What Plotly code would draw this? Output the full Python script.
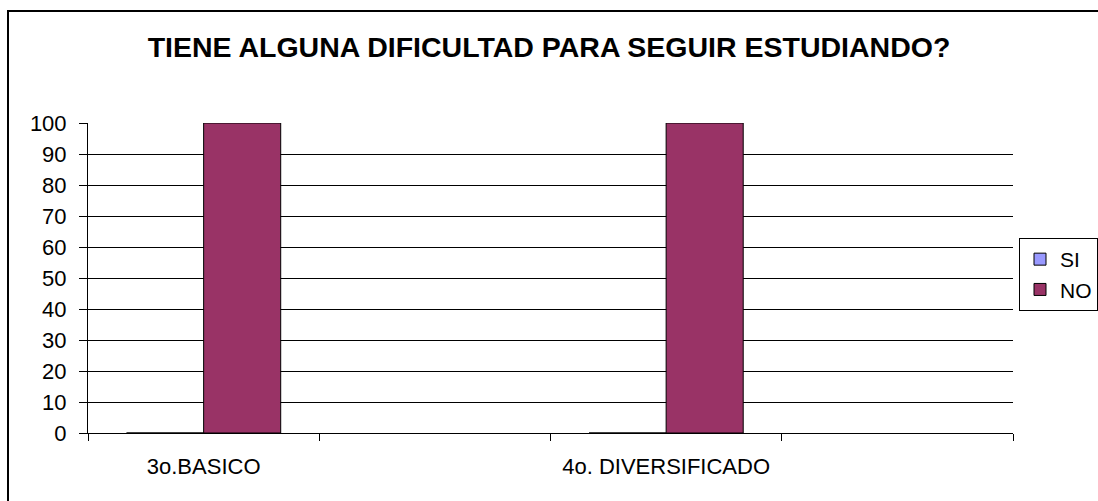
import plotly.graph_objects as go

# chart data
categories = ["3o.BASICO", " ", "4o. DIVERSIFICADO", "  "]
si_values = [0, None, 0, None]
no_values = [100, None, 100, None]
y_ticks = [0, 10, 20, 30, 40, 50, 60, 70, 80, 90, 100]

fig = go.Figure()
fig.add_trace(go.Bar(
    x=categories, y=si_values, name="SI",
    marker=dict(color="#9999FF", line=dict(color="black", width=1))
))
fig.add_trace(go.Bar(
    x=categories, y=no_values, name="NO",
    marker=dict(color="#993366", line=dict(color="black", width=1))
))

# outer chart border (runs off the right/bottom edge like the original)
fig.add_shape(type="rect", xref="paper", yref="paper",
              x0=(8 - 88) / 925, x1=1100 / 925, y0=-80 / 310, y1=(433 - 11) / 310,
              line=dict(color="black", width=2), layer="below")

fig.update_layout(
    width=1098, height=501,
    margin=dict(l=88, r=85, t=123, b=68, autoexpand=False),
    paper_bgcolor="white", plot_bgcolor="white",
    font=dict(family="Liberation Sans, Arial, sans-serif", size=22, color="black"),
    title=dict(text="<b>TIENE ALGUNA DIFICULTAD PARA SEGUIR ESTUDIANDO?</b>",
               x=0.5, xanchor="center", y=1 - 47 / 501, yanchor="middle",
               font=dict(size=28.5)),
    barmode="group", bargap=1 / 3, bargroupgap=0,
    showlegend=True,
    legend=dict(x=(1019 - 88) / 925, xanchor="left", y=(433 - 238) / 310, yanchor="top",
                bordercolor="black", borderwidth=1, bgcolor="white",
                font=dict(size=21), itemwidth=30),
    xaxis=dict(type="category", categoryorder="array", categoryarray=categories,
               showline=True, linecolor="black", linewidth=1,
               ticks="outside", tickson="boundaries", ticklen=7, tickcolor="black",
               ticklabelstandoff=14, showgrid=False, tickfont=dict(size=22)),
    yaxis=dict(range=[0, 100], tickvals=y_ticks, showline=True, linecolor="black",
               linewidth=1, ticks="outside", ticklen=8, tickcolor="black",
               ticklabelstandoff=8,
               showgrid=True, gridcolor="black", gridwidth=1, zeroline=False,
               tickfont=dict(size=22)),
)

fig.write_html("out.html", config={"displayModeBar": False},
               post_script="document.body.style.margin='0';")
